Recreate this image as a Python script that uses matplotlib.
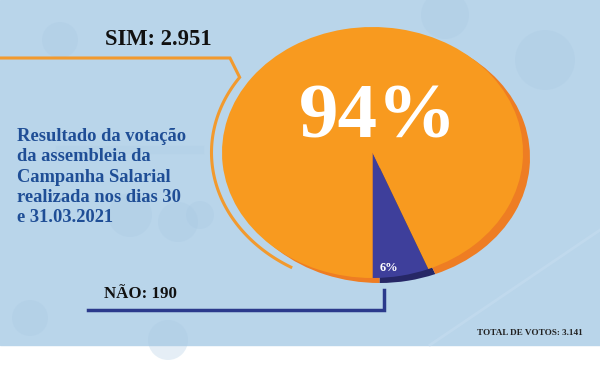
import numpy as np
import matplotlib
matplotlib.use('Agg')
import matplotlib.pyplot as plt
from matplotlib.patches import Rectangle, Circle

# votes
labels = ['NÃO', 'SIM']
votes = [190, 2951]
total = 3141
pct_labels = ['6%', '94%']

title_lines = ['Resultado da votação', 'da assembleia da', 'Campanha Salarial',
               'realizada nos dias 30', 'e 31.03.2021']

bg = '#b9d5ea'
orange = '#f89a1f'
orange_dark = '#ee7d23'
blue = '#3e3f9b'
blue_dark = '#262766'
text_blue = '#1f4e96'

plt.rcParams['font.family'] = ['Liberation Serif', 'DejaVu Serif']

W, H = 600, 366
fig = plt.figure(figsize=(6, 3.66), dpi=100, facecolor='white')
ax = fig.add_axes([0, 0, 1, 1])
ax.set_xlim(0, W)
ax.set_ylim(H, 0)
ax.axis('off')

# background panel + faint network bubbles
ax.add_patch(Rectangle((0, 0), W, 345, color=bg, zorder=0))
for (cx, cy, r) in [(445, 15, 24), (200, 215, 14), (130, 215, 22), (178, 222, 20),
                    (30, 318, 18), (168, 340, 20), (545, 60, 30), (60, 40, 18)]:
    ax.add_patch(Circle((cx, cy), r, color='#a9c9e3', alpha=0.3, lw=0, zorder=0.5))
ax.plot([430, 600], [345, 230], color='#c8def0', lw=2, alpha=0.5, zorder=0.6)
ax.plot([60, 200], [150, 150], color='#aecde6', lw=6, alpha=0.3, zorder=0.6)

# orange leader line for SIM
t = np.radians(np.linspace(214.4, 120.5, 120))
arc_x = 372.5 + 161 * np.cos(t)
arc_y = 152.5 + 133 * np.sin(t)
ax.plot(np.r_[0, 230, arc_x], np.r_[58, 58, arc_y], color='#f29a2e', lw=2.2,
        solid_joinstyle='miter', zorder=2)

# blue leader line for NÃO
ax.plot([88, 384, 384], [310, 310, 290], color='#2b3a8c', lw=2.5,
        solid_joinstyle='miter', zorder=2)

ax.text(105, 45, 'SIM: %s' % f'{votes[1]:,}'.replace(',', '.'), fontsize=16.3,
        fontweight='bold', color='#111111', va='baseline', ha='left')
ax.text(104, 298, 'NÃO: %d' % votes[0], fontsize=12.2, fontweight='bold',
        color='#111111', va='baseline', ha='left')
ax.text(583, 335, 'TOTAL DE VOTOS: %s' % f'{total:,}'.replace(',', '.'),
        fontsize=6.6, fontweight='bold', color='#222222', va='baseline', ha='right')
for i, line in enumerate(title_lines):
    ax.text(17, 141 + i * 20.3, line, fontsize=13.3, fontweight='bold',
            color=text_blue, va='baseline', ha='left')

# pie (stretched to an ellipse by the axes shape)
cx, cy, rx, ry = 372.5, 152.5, 150.5, 125.5
k = 1.2
aw, ah = 2 * k * rx, 2 * k * ry
pax = fig.add_axes([(cx - k * rx) / W, (H - cy - k * ry) / H, aw / W, ah / H])
pax.patch.set_alpha(0)
# thickness / rim
pax.pie(votes, colors=[blue_dark, orange_dark], startangle=270, counterclock=True,
        center=(7 / rx, -5 / ry), wedgeprops=dict(linewidth=0))
pax.pie(votes, colors=[blue, orange], startangle=270, counterclock=True,
        wedgeprops=dict(linewidth=0))
pax.set_xlim(-k, k)
pax.set_ylim(-k, k)
pax.set_aspect('auto')
pax.axis('off')

pax.text(378, 137, pct_labels[1], transform=ax.transData, fontsize=57,
         fontweight='bold', color='white', ha='center', va='baseline')
pax.text(389, 268, pct_labels[0], transform=ax.transData, fontsize=9,
         fontweight='bold', color='white', ha='center', va='center')

fig.savefig('out.png', dpi=100, facecolor='white')
